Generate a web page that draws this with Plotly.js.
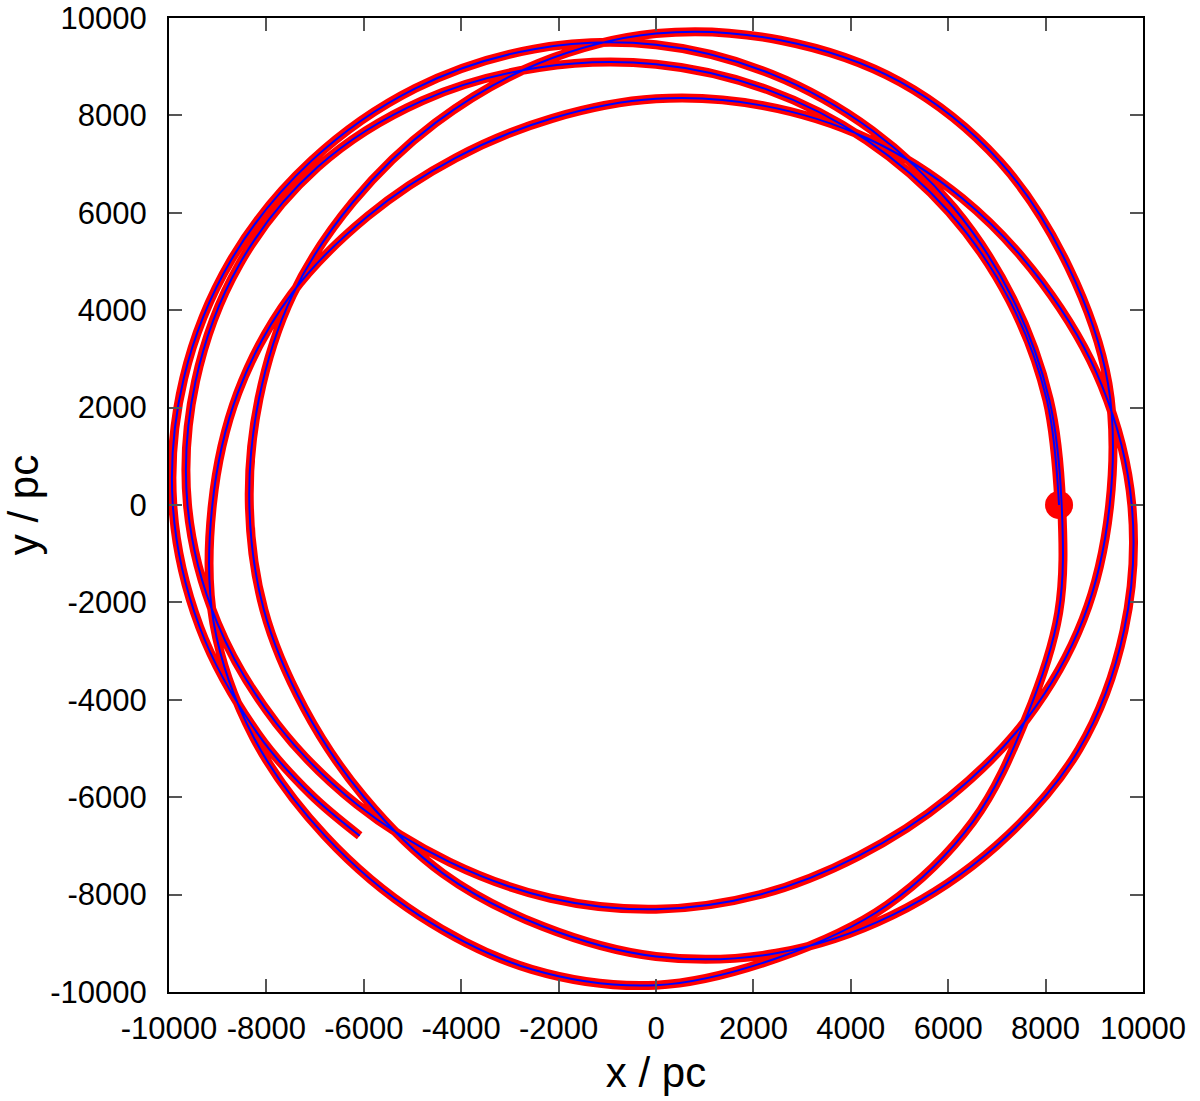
<!DOCTYPE html>
<html>
<head>
<meta charset="utf-8">
<script src="https://cdn.plot.ly/plotly-3.0.1.min.js"></script>
<style>
  html, body { margin: 0; padding: 0; background: #ffffff; }
  #chart { width: 1200px; height: 1101px; }
</style>
</head>
<body>
<div id="chart"></div>
<script>
// Orbit, split in four passes round the centre (pc)
const pass1X = [8276, 8027, 7266, 6017, 4325, 2285, 0, -2407, -4795, -6944, -8556, -9456, -9620, -9012, -7785, -6145, -4235, -2164, 0, 2143, 4160, 6010, 7612, 8770];
const pass1Y = [0, 2151, 4195, 6017, 7491, 8529, 9050, 8983, 8305, 6944, 4940, 2534, 0, -2415, -4495, -6145, -7335, -8075, -8300, -7998, -7205, -6010, -4395, -2350];

const pass2X = [9316, 9282, 8469, 7057, 5015, 2557, 0, -2428, -4530, -6222, -7465, -8152, -8350, -8051, -7222, -5996, -4370, -2319, 0, 2466, 4860, 6993, 8686, 9611];
const pass2Y = [0, 2487, 4890, 7057, 8686, 9543, 9680, 9060, 7846, 6222, 4310, 2184, 0, -2157, -4170, -5996, -7569, -8655, -9270, -9205, -8418, -6993, -5015, -2575];

const pass3X = [9770, 9157, 7924, 6293, 4345, 2197, 0, -2127, -4115, -5926, -7491, -8587, -9110, -9079, -8262, -6795, -4865, -2554, 0, 2492, 4745, 6505, 7595, 8268];
const pass3Y = [0, 2453, 4575, 6293, 7526, 8201, 8340, 7940, 7127, 5926, 4325, 2301, 0, -2433, -4770, -6795, -8426, -9534, -9860, -9302, -8218, -6505, -4385, -2215];

const pass4X = [8330, 8075, 7326, 6109, 4440, 2371, 0, -2508, -4940, -7071, -8721, -9698, -9922, -9369, -8166, -7086, -6085];
const pass4Y = [0, 2164, 4230, 6109, 7690, 8848, 9450, 9360, 8556, 7071, 5035, 2598, 0, -2510, -4715, -5946, -6791];

// Start position (red dot)
const startX = [8276];
const startY = [0];

// Tick values and labels
const tickValues = [-10000, -8000, -6000, -4000, -2000, 0, 2000, 4000, 6000, 8000, 10000];
const tickLabels = ["-10000", "-8000", "-6000", "-4000", "-2000", "0", "2000", "4000", "6000", "8000", "10000"];

const orbitX = pass1X.concat(pass2X, pass3X, pass4X);
const orbitY = pass1Y.concat(pass2Y, pass3Y, pass4Y);

const FONT = "Liberation Sans, Arial, Helvetica, sans-serif";

const traces = [
  {
    x: orbitX, y: orbitY, type: "scatter", mode: "lines",
    line: { color: "#ff0000", width: 9, shape: "spline", smoothing: 1 },
    hoverinfo: "skip", showlegend: false
  },
  {
    x: startX, y: startY, type: "scatter", mode: "markers",
    marker: { color: "#ff0000", size: 28, line: { width: 0 } },
    hoverinfo: "skip", showlegend: false
  },
  {
    x: orbitX, y: orbitY, type: "scatter", mode: "lines",
    line: { color: "#0000ff", width: 2, shape: "spline", smoothing: 1 },
    hoverinfo: "skip", showlegend: false
  }
];

function axis(titleText, standoff, labelGap) {
  return {
    range: [-10000, 10000],
    tickmode: "array",
    tickvals: tickValues,
    ticktext: tickLabels,
    ticks: "inside",
    ticklen: 13,
    tickwidth: 2,
    tickcolor: "#555555",
    showline: true,
    linecolor: "#000000",
    linewidth: 2,
    mirror: "ticks",
    showgrid: false,
    zeroline: false,
    ticklabelstandoff: labelGap,
    tickfont: { family: FONT, size: 31, color: "#000000" },
    title: { text: titleText, font: { family: FONT, size: 42, color: "#000000" }, standoff: standoff },
    fixedrange: true
  };
}

const layout = {
  width: 1200,
  height: 1101,
  margin: { l: 169, r: 57, t: 18, b: 109 },
  paper_bgcolor: "#ffffff",
  plot_bgcolor: "#ffffff",
  xaxis: axis("x / pc", 12, 8),
  yaxis: axis("y / pc", 6, 14),
  showlegend: false
};

Plotly.newPlot("chart", traces, layout, { staticPlot: true, displayModeBar: false });
</script>
</body>
</html>
